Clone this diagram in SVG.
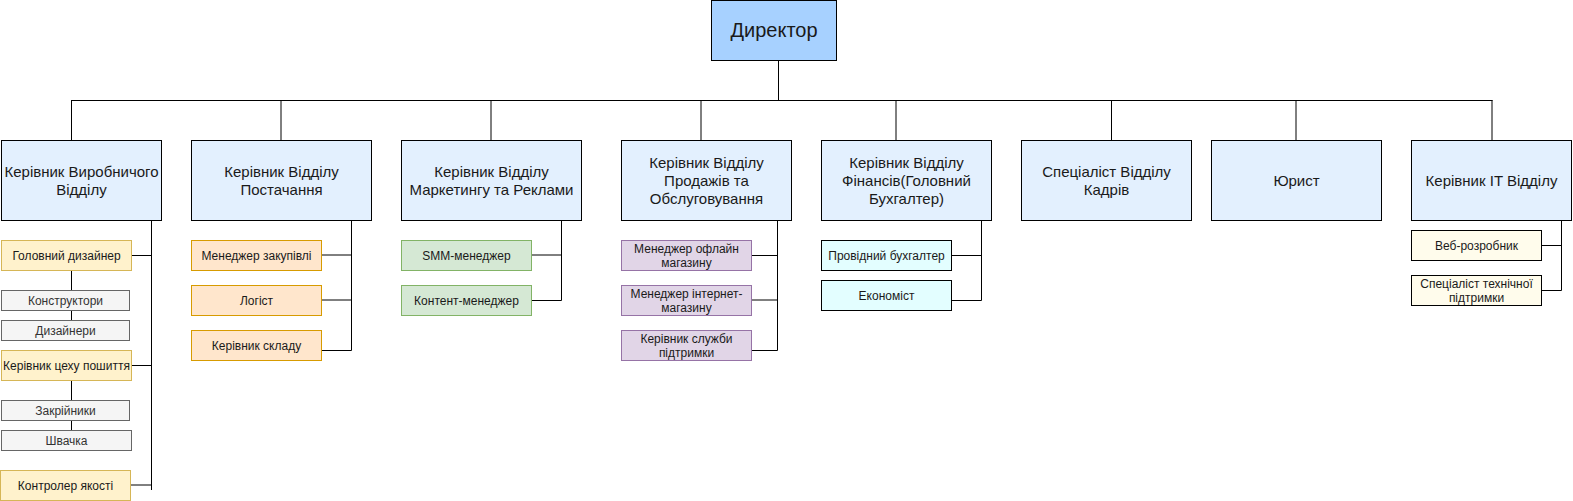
<svg xmlns="http://www.w3.org/2000/svg" width="1573" height="501" viewBox="0 0 1573 501">
<style>
text{font-family:"Liberation Sans",Arial,sans-serif;fill:#1a1a1a;text-anchor:middle}
.t20{font-size:20px}
.t15{font-size:15px}
.t12{font-size:12px}
.gt{fill:#333333}
.dir{fill:#a7d1ff;stroke:#000;stroke-width:1}
.dep{fill:#e3f0fe;stroke:#000;stroke-width:1}
.yel{fill:#fff2cc;stroke:#d6b656;stroke-width:1}
.gry{fill:#f5f5f5;stroke:#666666;stroke-width:1}
.org{fill:#ffe6cc;stroke:#d79b00;stroke-width:1}
.grn{fill:#d5e8d4;stroke:#82b366;stroke-width:1}
.pur{fill:#e1d5e7;stroke:#9673a6;stroke-width:1}
.cyn{fill:#e3feff;stroke:#000;stroke-width:1}
.ivo{fill:#fffcec;stroke:#000;stroke-width:1}
.ln{fill:none;stroke:#000;stroke-width:1}
</style>
<g id="connectors">
<path class="ln" d="M778.5 60V100.5M71 100.5H1492.5M71.5 100V140M281 100V140M491 100V140M701 100V140M896 100V140M1111.5 100V140M1296 100V140M1492 100V140"/>
<path class="ln" d="M151.5 220V490M131 255.5H151.5M131 365.5H151.5M130 485H151.5M71.5 270V290M71.5 310V320M71.5 380V400M71.5 420V430"/>
<path class="ln" d="M351.5 220V350.5M321 255H351.5M321 300H351.5M321 350.5H351.5"/>
<path class="ln" d="M561.5 220V300.5M531 255H561.5M531 300.5H561.5"/>
<path class="ln" d="M777.5 220V350.5M751 255.5H777.5M751 300H777.5M751 350.5H777.5"/>
<path class="ln" d="M981.5 220V300.5M951 255.5H981.5M951 300.5H981.5"/>
<path class="ln" d="M1561.5 220V290.5M1541 245.5H1561.5M1541 290.5H1561.5"/>
</g>
<g id="director"><rect class="dir" x="711.5" y="0.5" width="125" height="60"/><text class="t20" x="774" y="37">Директор</text></g>
<g id="dep-production"><rect class="dep" x="1.5" y="140.5" width="160" height="80"/><text class="t15" x="81.5" y="177">Керівник Виробничого</text><text class="t15" x="81.5" y="195">Відділу</text></g>
<g id="dep-supply"><rect class="dep" x="191.5" y="140.5" width="180" height="80"/><text class="t15" x="281.5" y="177">Керівник Відділу</text><text class="t15" x="281.5" y="195">Постачання</text></g>
<g id="dep-marketing"><rect class="dep" x="401.5" y="140.5" width="180" height="80"/><text class="t15" x="491.5" y="177">Керівник Відділу</text><text class="t15" x="491.5" y="195">Маркетингу та Реклами</text></g>
<g id="dep-sales"><rect class="dep" x="621.5" y="140.5" width="170" height="80"/><text class="t15" x="706.5" y="168">Керівник Відділу</text><text class="t15" x="706.5" y="186">Продажів та</text><text class="t15" x="706.5" y="204">Обслуговування</text></g>
<g id="dep-finance"><rect class="dep" x="821.5" y="140.5" width="170" height="80"/><text class="t15" x="906.5" y="168">Керівник Відділу</text><text class="t15" x="906.5" y="186">Фінансів(Головний</text><text class="t15" x="906.5" y="204">Бухгалтер)</text></g>
<g id="dep-hr"><rect class="dep" x="1021.5" y="140.5" width="170" height="80"/><text class="t15" x="1106.5" y="177">Спеціаліст Відділу</text><text class="t15" x="1106.5" y="195">Кадрів</text></g>
<g id="dep-lawyer"><rect class="dep" x="1211.5" y="140.5" width="170" height="80"/><text class="t15" x="1296.5" y="186">Юрист</text></g>
<g id="dep-it"><rect class="dep" x="1411.5" y="140.5" width="160" height="80"/><text class="t15" x="1491.5" y="186">Керівник IT Відділу</text></g>
<g id="head-designer"><rect class="yel" x="1.5" y="240.5" width="130" height="30"/><text class="t12" x="66.5" y="259.5">Головний дизайнер</text></g>
<g id="constructors"><rect class="gry" x="1.5" y="290.5" width="128" height="20"/><text class="t12 gt" x="65.5" y="304.5">Конструктори</text></g>
<g id="designers"><rect class="gry" x="1.5" y="320.5" width="128" height="20"/><text class="t12 gt" x="65.5" y="334.5">Дизайнери</text></g>
<g id="sewing-head"><rect class="yel" x="1.5" y="350.5" width="130" height="30"/><text class="t12" x="66.5" y="369.5">Керівник цеху пошиття</text></g>
<g id="cutters"><rect class="gry" x="1.5" y="400.5" width="128" height="20"/><text class="t12 gt" x="65.5" y="414.5">Закрійники</text></g>
<g id="seamstress"><rect class="gry" x="1.5" y="430.5" width="130" height="20"/><text class="t12 gt" x="66.5" y="444.5">Швачка</text></g>
<g id="quality"><rect class="yel" x="0.5" y="470.5" width="130" height="30"/><text class="t12" x="65.5" y="489.5">Контролер якості</text></g>
<g id="purchasing"><rect class="org" x="191.5" y="240.5" width="130" height="30"/><text class="t12" x="256.5" y="259.5">Менеджер закупівлі</text></g>
<g id="logist"><rect class="org" x="191.5" y="285.5" width="130" height="30"/><text class="t12" x="256.5" y="304.5">Логіст</text></g>
<g id="warehouse"><rect class="org" x="191.5" y="330.5" width="130" height="30"/><text class="t12" x="256.5" y="349.5">Керівник складу</text></g>
<g id="smm"><rect class="grn" x="401.5" y="240.5" width="130" height="30"/><text class="t12" x="466.5" y="259.5">SMM-менеджер</text></g>
<g id="content"><rect class="grn" x="401.5" y="285.5" width="130" height="30"/><text class="t12" x="466.5" y="304.5">Контент-менеджер</text></g>
<g id="offline"><rect class="pur" x="621.5" y="240.5" width="130" height="30"/><text class="t12" x="686.5" y="252.5">Менеджер офлайн</text><text class="t12" x="686.5" y="267">магазину</text></g>
<g id="online"><rect class="pur" x="621.5" y="285.5" width="130" height="30"/><text class="t12" x="686.5" y="297.5">Менеджер інтернет-</text><text class="t12" x="686.5" y="312">магазину</text></g>
<g id="support-head"><rect class="pur" x="621.5" y="330.5" width="130" height="30"/><text class="t12" x="686.5" y="342.5">Керівник служби</text><text class="t12" x="686.5" y="357">підтримки</text></g>
<g id="accountant"><rect class="cyn" x="821.5" y="240.5" width="130" height="30"/><text class="t12" x="886.5" y="259.5">Провідний бухгалтер</text></g>
<g id="economist"><rect class="cyn" x="821.5" y="280.5" width="130" height="30"/><text class="t12" x="886.5" y="299.5">Економіст</text></g>
<g id="webdev"><rect class="ivo" x="1411.5" y="230.5" width="130" height="30"/><text class="t12" x="1476.5" y="249.5">Веб-розробник</text></g>
<g id="techsupport"><rect class="ivo" x="1411.5" y="275.5" width="130" height="30"/><text class="t12" x="1476.5" y="287.5">Спеціаліст технічної</text><text class="t12" x="1476.5" y="302">підтримки</text></g>
</svg>
